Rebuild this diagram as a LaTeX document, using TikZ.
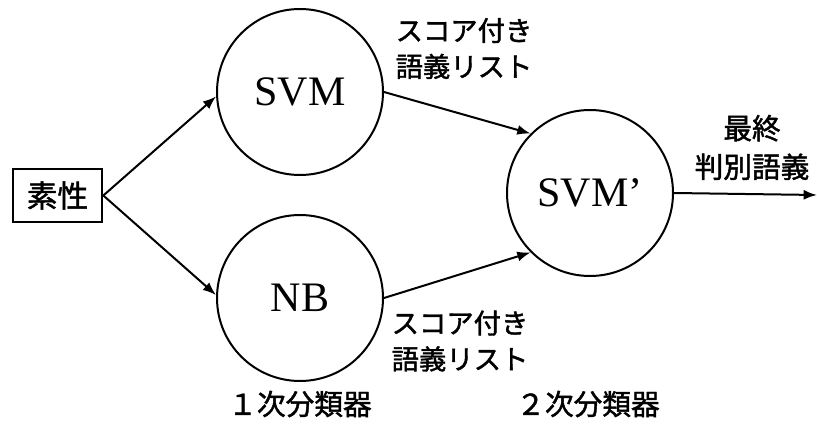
\documentclass[tikz,border=0pt]{standalone}
\usepackage{fontspec}
\setmainfont{Liberation Serif}
\newfontfamily\jp[FakeBold=1.5]{Noto Sans CJK JP}
\usetikzlibrary{arrows.meta}
\begin{document}
\begin{tikzpicture}[x=0.75pt,y=-0.75pt,
  clf/.style={circle,draw,line width=1.5pt,minimum size=124.5pt,inner sep=0pt,font=\fontsize{31.5}{32}\selectfont},
  conn/.style={line width=1.5pt,-{Latex[length=10pt,width=7.5pt]}},
  lbl/.style={font=\jp\fontsize{20.5}{27}\selectfont,align=center,inner sep=0pt}]
\useasboundingbox (0,0) rectangle (817,428);
\node[draw,line width=2pt,minimum width=66.75pt,minimum height=39.75pt,inner sep=0pt,font=\jp\fontsize{23}{23}\selectfont] (feat) at (57.5,195.5) {素性};
\node[clf] (svm) at (300,92) {SVM};
\node[clf] (nb) at (300,298) {NB};
\node[clf] (svmp) at (590,193) {SVM’};
\coordinate (out) at (817,195);
\draw[conn] (feat.east) -- (svm.183);
\draw[conn] (feat.east) -- (nb.178);
\draw[conn] (svm.east) -- (svmp.135);
\draw[conn] (nb.east) -- (svmp.225);
\draw[conn] (svmp.east) -- (out);
\node[lbl] (l1) at (464,48.5) {スコア付き\\語義リスト};
\node[lbl] (l2) at (460,341) {スコア付き\\語義リスト};
\node[lbl,font=\jp\fontsize{21.5}{29}\selectfont] (l3) at (752,147.5) {最終\\判別語義};
\node[lbl,font=\jp\fontsize{21.5}{22}\selectfont] (c1) at (300,404) {１次分類器};
\node[lbl,font=\jp\fontsize{21.5}{22}\selectfont] (c2) at (588,404) {２次分類器};
\end{tikzpicture}
\end{document}
